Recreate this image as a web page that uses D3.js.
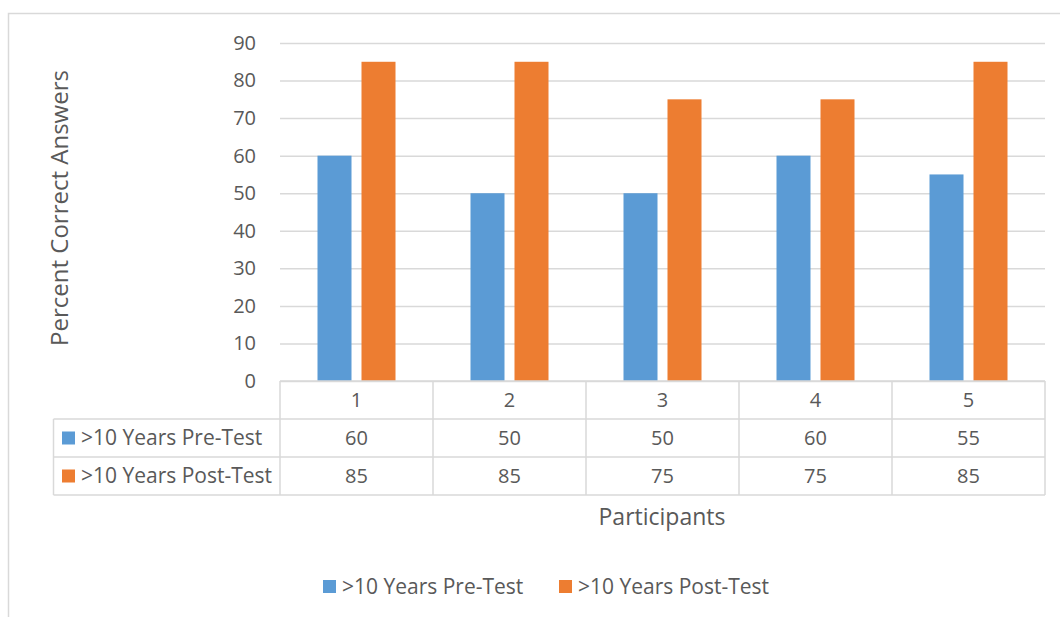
<!DOCTYPE html>
<html>
<head>
<meta charset="utf-8">
<script src="https://cdn.jsdelivr.net/npm/d3@7"></script>
<style>
  body { margin: 0; background: #fff; }
  text { font-family: "Open Sans", "Liberation Sans", sans-serif; fill: #595959; }
</style>
</head>
<body>
<div id="chart"></div>
<script>
// values
const participants = ["1", "2", "3", "4", "5"];
const preTest = [60, 50, 50, 60, 55];
const postTest = [85, 85, 75, 75, 85];
const seriesNames = [">10 Years Pre-Test", ">10 Years Post-Test"];
const seriesColors = ["#5b9bd5", "#ed7d31"];
const yMax = 90;

const W = 1060, H = 617;
const plotL = 280, plotR = 1045, plotT = 43, plotB = 381;
const rowH = 38;
const gridColor = "#d9d9d9";
const fs = 21;

const svg = d3.select("#chart").append("svg")
    .attr("width", W).attr("height", H);

// outer chart frame
svg.append("rect")
    .attr("x", 8.5).attr("y", 13.5)
    .attr("width", W + 10).attr("height", H + 10)
    .attr("fill", "none").attr("stroke", gridColor).attr("stroke-width", 1.5);

var x0 = d3.scaleBand().domain(participants).range([plotL, plotR]);
var bw = x0.bandwidth();
var x1 = d3.scaleBand().domain(seriesNames)
    .range([bw / 2 - 39, bw / 2 + 39]).paddingInner(10 / 44);
var y = d3.scaleLinear().domain([0, yMax]).range([plotB, plotT]);

// gridlines + y labels
var yAxis = d3.axisLeft(y).ticks(9).tickSize(-(plotR - plotL)).tickPadding(24);
var gy = svg.append("g").attr("transform", "translate(" + plotL + ",0)").call(yAxis);
gy.select(".domain").remove();
gy.selectAll(".tick line").attr("stroke", gridColor).attr("stroke-width", 1.5);
gy.selectAll(".tick text").style("font-size", "20px").attr("fill", "#595959")
    .attr("font-family", null);

// bars
var rows = participants.map((p, i) => ({ p: p, vals: [preTest[i], postTest[i]] }));
var groups = svg.selectAll(".grp").data(rows).enter().append("g")
    .attr("transform", d => "translate(" + x0(d.p) + ",0)");
groups.selectAll("rect").data(d => d.vals.map((v, j) => ({ name: seriesNames[j], v: v, c: seriesColors[j] })))
    .enter().append("rect")
    .attr("x", d => x1(d.name))
    .attr("width", x1.bandwidth())
    .attr("y", d => y(d.v))
    .attr("height", d => y(0) - y(d.v))
    .attr("fill", d => d.c);

// data table
var tbl = svg.append("g").attr("stroke", gridColor).attr("stroke-width", 1.5).attr("fill", "none");
var tLeft = 53.5;
tbl.append("line").attr("x1", plotL).attr("x2", plotR).attr("y1", plotB).attr("y2", plotB);
[1, 2, 3].forEach(r => {
    tbl.append("line").attr("x1", tLeft).attr("x2", plotR)
        .attr("y1", plotB + r * rowH).attr("y2", plotB + r * rowH);
});
tbl.append("line").attr("x1", tLeft).attr("x2", tLeft).attr("y1", plotB + rowH).attr("y2", plotB + 3 * rowH);
participants.forEach(p => {
    tbl.append("line").attr("x1", x0(p)).attr("x2", x0(p)).attr("y1", plotB).attr("y2", plotB + 3 * rowH);
});
tbl.append("line").attr("x1", plotR).attr("x2", plotR).attr("y1", plotB).attr("y2", plotB + 3 * rowH);

// header numbers
svg.selectAll(".hdr").data(participants).enter().append("text")
    .attr("x", d => x0(d) + bw / 2).attr("y", plotB + rowH / 2)
    .attr("dy", "0.35em").attr("text-anchor", "middle").style("font-size", "20px")
    .text(d => d);

[preTest, postTest].forEach((vals, j) => {
    var cy = plotB + (j + 1.5) * rowH;
    svg.append("rect").attr("x", 62).attr("y", cy - 6.5).attr("width", 13).attr("height", 13)
        .attr("fill", seriesColors[j]);
    svg.append("text").attr("x", 81).attr("y", cy).attr("dy", "0.35em")
        .style("font-size", fs + "px").text(seriesNames[j]);
    svg.selectAll(".v" + j).data(vals).enter().append("text")
        .attr("x", (d, i) => x0(participants[i]) + bw / 2).attr("y", cy)
        .attr("dy", "0.35em").attr("text-anchor", "middle").style("font-size", "20px")
        .text(d => d);
});

// axis titles
svg.append("text").attr("transform", "translate(60,208) rotate(-90)")
    .attr("text-anchor", "middle").attr("dy", "0.35em").style("font-size", "24px")
    .text("Percent Correct Answers");
svg.append("text").attr("x", 662).attr("y", 517).attr("dy", "0.35em")
    .attr("text-anchor", "middle").style("font-size", "23px").text("Participants");

// legend
var legX = [323, 559];
seriesNames.forEach((n, j) => {
    svg.append("rect").attr("x", legX[j]).attr("y", 580).attr("width", 13).attr("height", 13)
        .attr("fill", seriesColors[j]);
    svg.append("text").attr("x", legX[j] + 19).attr("y", 587).attr("dy", "0.35em")
        .style("font-size", fs + "px").text(n);
});
</script>
</body>
</html>
